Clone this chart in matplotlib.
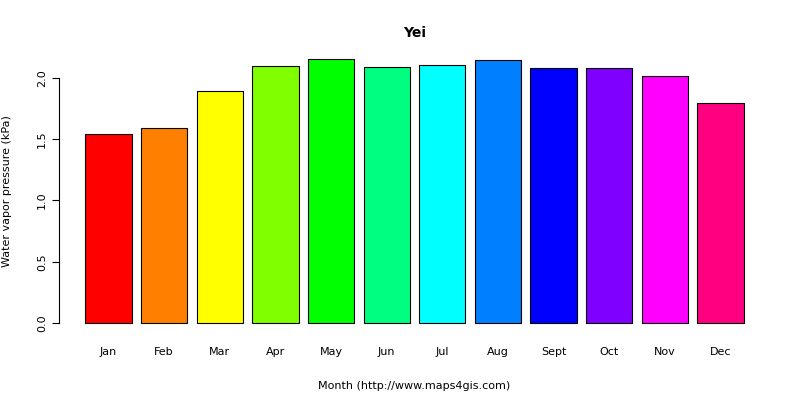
import matplotlib
matplotlib.use("Agg")
import matplotlib.pyplot as plt

months = ["Jan","Feb","Mar","Apr","May","Jun","Jul","Aug","Sept","Oct","Nov","Dec"]
values = [1.54, 1.59, 1.89, 2.10, 2.155, 2.09, 2.105, 2.145, 2.08, 2.08, 2.015, 1.795]
colors = ["#FF0000","#FF8000","#FFFF00","#80FF00","#00FF00","#00FF80",
          "#00FFFF","#0080FF","#0000FF","#8000FF","#FF00FF","#FF0080"]

fig = plt.figure(figsize=(8, 4), dpi=100)
W, H = 800, 400
ax = fig.add_axes([59/W, (H-333.5)/H, (770-59)/W, (333.5-48.6)/H])
xs = [0.7 + 1.2*i for i in range(len(values))]
ax.bar(xs, values, width=1.0, color=colors, edgecolor="black", linewidth=0.8)
ax.set_xlim(-0.368, 14.968)
ax.set_ylim(-0.086, 2.24)
for s in ["top", "right", "bottom"]:
    ax.spines[s].set_visible(False)
ax.spines["left"].set_bounds(0, 2.0)
ax.set_yticks([0, 0.5, 1.0, 1.5, 2.0])
ax.set_yticklabels(["0.0", "0.5", "1.0", "1.5", "2.0"], rotation=90, va="center", fontsize=8)
ax.set_xticks(xs)
ax.set_xticklabels(months, fontsize=8)
ax.tick_params(axis="x", length=0, pad=10)
ax.tick_params(axis="y", length=5)
ax.set_xlabel("Month (http://www.maps4gis.com)", fontsize=8, labelpad=17)
ax.set_ylabel("Water vapor pressure (kPa)", fontsize=8, labelpad=18)
ax.set_title("Yei", fontsize=10, fontweight="bold", pad=8)
fig.savefig("out.png", dpi=100)
